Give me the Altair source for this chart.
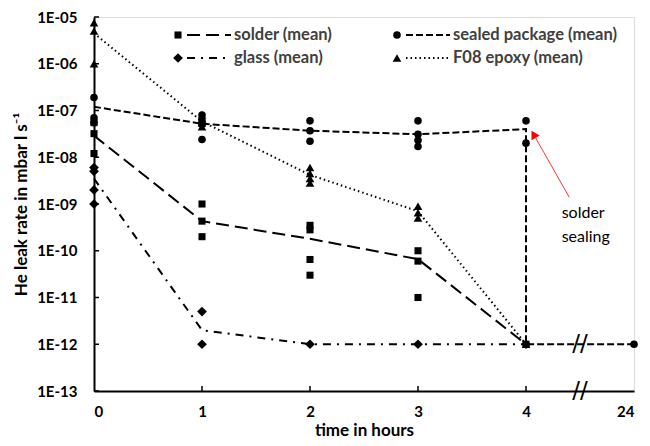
import altair as alt
import pandas as pd

# ---------------- data ----------------
# individual measurements (time in hours, He leak rate in mbar l/s)
solder_t = [0, 0, 0, 1, 1, 1, 2, 2, 2, 2, 3, 3, 3, 4]
solder_v = [5.5e-8, 3.2e-8, 1.2e-8, 1e-9, 4.3e-10, 2e-10, 3.5e-10, 2.8e-10,
            6.5e-11, 3e-11, 1e-10, 6e-11, 1e-11, 1e-12]

sealed_t = [0, 0, 0, 1, 1, 1, 1, 2, 2, 2, 3, 3, 3, 3, 4, 4, 24]
sealed_v = [1.9e-7, 7e-8, 5.5e-8, 8e-8, 6e-8, 5e-8, 2.4e-8, 6e-8, 3.7e-8,
            2.2e-8, 6e-8, 3.1e-8, 2.3e-8, 1.7e-8, 6e-8, 2e-8, 1e-12]

glass_t = [0, 0, 0, 0, 1, 1, 2, 3, 4]
glass_v = [6e-9, 5e-9, 2e-9, 1e-9, 5e-12, 1e-12, 1e-12, 1e-12, 1e-12]

epoxy_t = [0, 0, 0, 1, 1, 1, 1, 2, 2, 2, 2, 3, 3, 3, 4]
epoxy_v = [7.5e-6, 5e-6, 1e-6, 8e-8, 6.5e-8, 5.5e-8, 4.5e-8, 6e-9, 4.5e-9,
           3.5e-9, 2.8e-9, 9e-10, 6.5e-10, 5e-10, 1e-12]

# mean curves
mean_t = [0, 1, 2, 3, 4]
solder_mean = [2.9e-8, 4.3e-10, 1.8e-10, 6.6e-11, 1e-12]
glass_mean = [3.5e-9, 2e-12, 1e-12, 1e-12, 1e-12]
epoxy_mean = [4.5e-6, 5.8e-8, 4.2e-9, 7e-10, 1e-12]
sealed_mean_t = [0, 1, 2, 3, 4, 4, 24]
sealed_mean = [1.2e-7, 5.2e-8, 3.7e-8, 3.1e-8, 4e-8, 1e-12, 1e-12]

# axis ticks
x_ticks = [0, 1, 2, 3, 4, 24]
y_ticks = [1e-13, 1e-12, 1e-11, 1e-10, 1e-9, 1e-8, 1e-7, 1e-6, 1e-5]

# annotation
note_lines = ["solder", "sealing"]
note_t, note_v = 4.33, 6.5e-10
arrow_t = [4.40, 4.07]
arrow_v = [1.4e-9, 3.1e-8]
break_t = 4.5
break_levels = [1e-13, 1e-12]

W, H = 634, 430
FONT = "Lato"


def pos(t):
    # broken axis: the 24 h value is drawn one step after 4 h
    return 5 if t >= 24 else t


def frame(t, v):
    return pd.DataFrame({"t": t, "v": v, "pos": [pos(x) for x in t],
                         "i": list(range(len(t)))})


xaxis = alt.Axis(values=[pos(x) for x in x_ticks],
                 labelExpr="datum.value == 5 ? '24' : datum.label",
                 ticks=False, grid=False, domainColor="black", domainWidth=2,
                 labelFont=FONT, labelFontWeight="bold", labelFontSize=15,
                 labelColor="black", labelPadding=13,
                 titleFont=FONT, titleFontWeight="bold", titleFontSize=17,
                 titleColor="black", titlePadding=3)
yaxis = alt.Axis(values=y_ticks,
                 labelExpr="'1E-' + (-round(log(datum.value)/LN10) < 10 ? '0' : '') + (-round(log(datum.value)/LN10))",
                 ticks=False, grid=False, domainColor="black", domainWidth=2,
                 labelFont=FONT, labelFontWeight="bold", labelFontSize=15,
                 labelColor="black", labelPadding=17,
                 titleFont=FONT, titleFontWeight="bold", titleFontSize=17,
                 titleColor="black", titlePadding=6)

X = alt.X("pos:Q", scale=alt.Scale(domain=[0, 5], nice=False, zero=False),
          axis=xaxis, title="time in hours")
Y = alt.Y("v:Q", scale=alt.Scale(type="log", domain=[1e-13, 1e-5], nice=False),
          axis=yaxis, title="He leak rate in mbar l s⁻¹")

series = [
    # label, pts_t, pts_v, mean_t, mean_v, shape, size, dash, legend col, row
    ("solder (mean)", solder_t, solder_v, mean_t, solder_mean, "square", 50, [13, 6], 0, 0),
    ("glass (mean)", glass_t, glass_v, mean_t, glass_mean, "diamond", 95, [8, 6, 2, 6], 0, 1),
    ("sealed package (mean)", sealed_t, sealed_v, sealed_mean_t, sealed_mean, "circle", 58, [7, 3], 1, 0),
    ("F08 epoxy (mean)", epoxy_t, epoxy_v, mean_t, epoxy_mean, "triangle-up", 75, [1.5, 3], 1, 1),
]

layers = []

# inward tick marks
layers.append(alt.Chart(frame([0] * len(y_ticks), y_ticks)).mark_rule(
    color="black", strokeWidth=1.5).encode(x=X, x2=alt.value(5), y=Y))
layers.append(alt.Chart(frame([x for x in x_ticks if 0 < x <= 4], [1e-13] * 4))
              .transform_calculate(v2="datum.v * 1.28")
              .mark_rule(color="black", strokeWidth=1.5)
              .encode(x=X, y=Y, y2="v2:Q"))

for label, pt, pv, mt, mv, shape, size, dash, col, row in series:
    layers.append(alt.Chart(frame(mt, mv)).mark_line(
        color="black", strokeWidth=2, strokeDash=dash).encode(x=X, y=Y, order="i:Q"))
    layers.append(alt.Chart(frame(pt, pv)).mark_point(
        filled=True, shape=shape, size=size, color="black", opacity=1).encode(x=X, y=Y))

# axis-break marks
layers.append(alt.Chart(frame([break_t] * 2, break_levels)).mark_text(
    text="//", font="DejaVu Sans", fontSize=23, color="black").encode(x=X, y=Y))

# annotation with red arrow
layers.append(alt.Chart(frame(arrow_t, arrow_v)).mark_line(
    color="#ff3333", strokeWidth=1).encode(x=X, y=Y, order="i:Q"))
layers.append(alt.Chart(frame(arrow_t[1:], arrow_v[1:])).mark_point(
    filled=True, shape="triangle-up", size=90, angle=330, color="#ff0000",
    opacity=1).encode(x=X, y=Y))
layers.append(alt.Chart(frame([note_t], [note_v])).mark_text(
    text=note_lines, align="left", baseline="middle", font=FONT, fontSize=16,
    lineHeight=24, color="black").encode(x=X, y=Y))

# legend (inside the plot, two columns)
one = pd.DataFrame({"k": [0]})
for label, pt, pv, mt, mv, shape, size, dash, col, row in series:
    mx = 84 + col * 219
    ly = 18 + row * 23
    layers.append(alt.Chart(one).mark_rule(
        color="black", strokeWidth=2, strokeDash=dash).encode(
        x=alt.value(mx + 9), x2=alt.value(mx + 53), y=alt.value(ly)))
    layers.append(alt.Chart(one).mark_point(
        filled=True, shape=shape, size=size, color="black", opacity=1).encode(
        x=alt.value(mx), y=alt.value(ly)))
    layers.append(alt.Chart(one).mark_text(
        text=label, align="left", baseline="middle", font=FONT, fontWeight="bold",
        fontSize=16.5, color="#404040").encode(x=alt.value(mx + 56), y=alt.value(ly)))

chart = alt.layer(*layers).properties(
    width=W, height=H,
    autosize=alt.AutoSizeParams(type="fit", contains="padding"),
    padding={"left": 4, "top": 2, "right": 4, "bottom": 0},
).configure_view(stroke="black", strokeWidth=1.5).configure(background="white")

chart.save("out.html", embed_options={"renderer": "svg", "actions": False})
